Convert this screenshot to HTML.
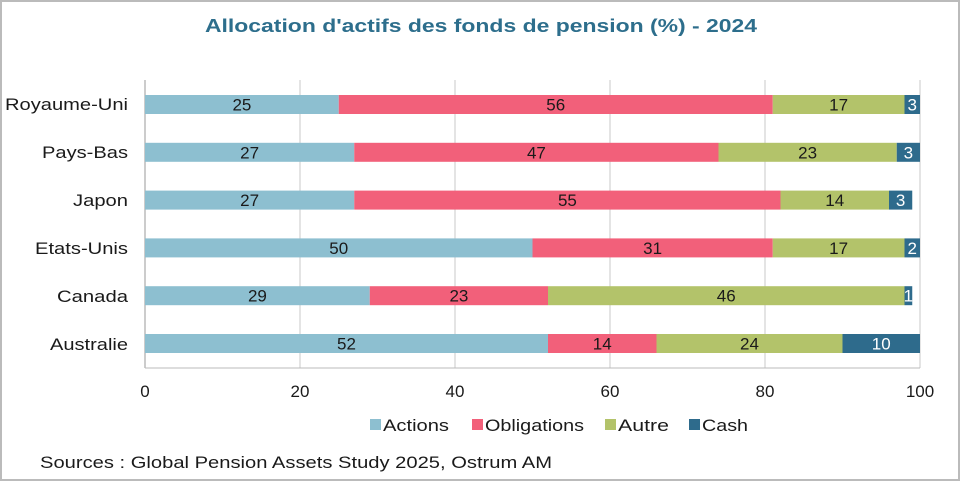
<!DOCTYPE html>
<html><head><style>body{margin:0;background:#fff}svg{display:block;font-family:"Liberation Sans",Arial,sans-serif}</style></head><body>
<svg width="960" height="481" viewBox="0 0 960 481">
<rect x="1" y="1" width="958" height="479" fill="#fff" stroke="#bbb" stroke-width="2"/>
<text x="205" y="32" font-size="18" font-weight="bold" fill="#2d6e8c" textLength="552" lengthAdjust="spacingAndGlyphs">Allocation d'actifs des fonds de pension (%) - 2024</text>
<g stroke="#c8c8c8" stroke-width="1">
<line x1="300" y1="80" x2="300" y2="368"/><line x1="455" y1="80" x2="455" y2="368"/>
<line x1="610" y1="80" x2="610" y2="368"/><line x1="765" y1="80" x2="765" y2="368"/>
<line x1="920" y1="80" x2="920" y2="368"/>
</g>
<line x1="145" y1="80" x2="145" y2="368" stroke="#999"/>
<line x1="145" y1="368" x2="920" y2="368" stroke="#bbb"/>
<g>
<rect x="145" y="95" width="193.75" height="19" fill="#8dbfd0"/><rect x="338.75" y="95" width="434" height="19" fill="#f2607a"/><rect x="772.75" y="95" width="131.75" height="19" fill="#b3c36a"/><rect x="904.5" y="95" width="15.5" height="19" fill="#2e6b8c"/>
<rect x="145" y="142.8" width="209.25" height="19" fill="#8dbfd0"/><rect x="354.25" y="142.8" width="364.25" height="19" fill="#f2607a"/><rect x="718.5" y="142.8" width="178.25" height="19" fill="#b3c36a"/><rect x="896.75" y="142.8" width="23.25" height="19" fill="#2e6b8c"/>
<rect x="145" y="190.6" width="209.25" height="19" fill="#8dbfd0"/><rect x="354.25" y="190.6" width="426.25" height="19" fill="#f2607a"/><rect x="780.5" y="190.6" width="108.5" height="19" fill="#b3c36a"/><rect x="889" y="190.6" width="23.25" height="19" fill="#2e6b8c"/>
<rect x="145" y="238.4" width="387.5" height="19" fill="#8dbfd0"/><rect x="532.5" y="238.4" width="240.25" height="19" fill="#f2607a"/><rect x="772.75" y="238.4" width="131.75" height="19" fill="#b3c36a"/><rect x="904.5" y="238.4" width="15.5" height="19" fill="#2e6b8c"/>
<rect x="145" y="286.2" width="224.75" height="19" fill="#8dbfd0"/><rect x="369.75" y="286.2" width="178.25" height="19" fill="#f2607a"/><rect x="548" y="286.2" width="356.5" height="19" fill="#b3c36a"/><rect x="904.5" y="286.2" width="7.75" height="19" fill="#2e6b8c"/>
<rect x="145" y="334" width="403" height="19" fill="#8dbfd0"/><rect x="548" y="334" width="108.5" height="19" fill="#f2607a"/><rect x="656.5" y="334" width="186" height="19" fill="#b3c36a"/><rect x="842.5" y="334" width="77.5" height="19" fill="#2e6b8c"/>
</g>
<g font-size="17" fill="#1a1a1a" text-anchor="middle">
<text x="241.9" y="110.5">25</text><text x="555.75" y="110.5">56</text><text x="838.6" y="110.5">17</text><text x="912.25" y="110.5" fill="#fff">3</text>
<text x="249.6" y="158.3">27</text><text x="536.4" y="158.3">47</text><text x="807.6" y="158.3">23</text><text x="908.4" y="158.3" fill="#fff">3</text>
<text x="249.6" y="206.1">27</text><text x="567.4" y="206.1">55</text><text x="834.75" y="206.1">14</text><text x="900.6" y="206.1" fill="#fff">3</text>
<text x="338.75" y="253.9">50</text><text x="652.6" y="253.9">31</text><text x="838.6" y="253.9">17</text><text x="912.25" y="253.9" fill="#fff">2</text>
<text x="257.4" y="301.7">29</text><text x="458.9" y="301.7">23</text><text x="726.25" y="301.7">46</text><text x="908.4" y="301.7" fill="#fff">1</text>
<text x="346.5" y="349.5">52</text><text x="602.25" y="349.5">14</text><text x="749.5" y="349.5">24</text><text x="881.25" y="349.5" fill="#fff">10</text>
</g>
<g font-size="17" fill="#1a1a1a" text-anchor="middle">
<text x="145" y="397">0</text><text x="300" y="397">20</text><text x="455" y="397">40</text><text x="610" y="397">60</text><text x="765" y="397">80</text><text x="920" y="397">100</text>
</g>
<g font-size="17" fill="#1a1a1a">
<rect x="370" y="419" width="11" height="11" fill="#8dbfd0"/><text x="383" y="431" textLength="66" lengthAdjust="spacingAndGlyphs">Actions</text>
<rect x="472" y="419" width="11" height="11" fill="#f2607a"/><text x="485" y="431" textLength="99" lengthAdjust="spacingAndGlyphs">Obligations</text>
<rect x="605" y="419" width="11" height="11" fill="#b3c36a"/><text x="618" y="431" textLength="51" lengthAdjust="spacingAndGlyphs">Autre</text>
<rect x="689" y="419" width="11" height="11" fill="#2e6b8c"/><text x="702" y="431" textLength="46" lengthAdjust="spacingAndGlyphs">Cash</text>
<text x="40" y="468" textLength="512" lengthAdjust="spacingAndGlyphs">Sources : Global Pension Assets Study 2025, Ostrum AM</text>
</g>
<g font-size="17" fill="#1a1a1a">
<text x="5" y="110" textLength="123" lengthAdjust="spacingAndGlyphs">Royaume-Uni</text>
<text x="42" y="158" textLength="86" lengthAdjust="spacingAndGlyphs">Pays-Bas</text>
<text x="73" y="206" textLength="55" lengthAdjust="spacingAndGlyphs">Japon</text>
<text x="35" y="254" textLength="93" lengthAdjust="spacingAndGlyphs">Etats-Unis</text>
<text x="57" y="302" textLength="71" lengthAdjust="spacingAndGlyphs">Canada</text>
<text x="50" y="350" textLength="78" lengthAdjust="spacingAndGlyphs">Australie</text>
</g>
</svg>
</body></html>
